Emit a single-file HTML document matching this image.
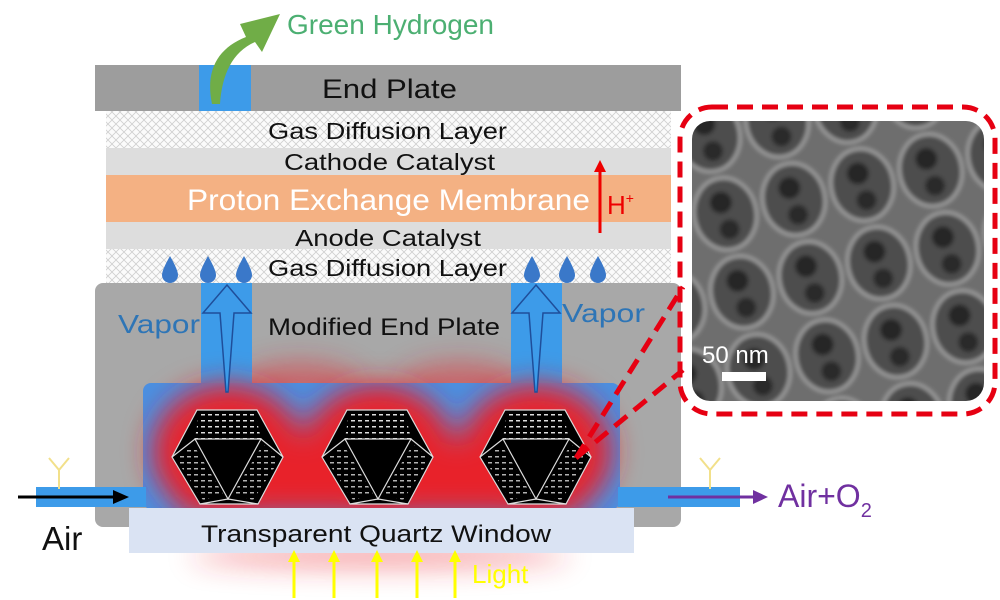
<!DOCTYPE html>
<html><head><meta charset="utf-8"><style>
html,body{margin:0;padding:0;background:#fff;width:1000px;height:600px;overflow:hidden}
svg{display:block}
text{font-family:"Liberation Sans",sans-serif}
</style></head><body>
<svg width="1000" height="600" viewBox="0 0 1000 600" xmlns="http://www.w3.org/2000/svg">
<defs>
<pattern id="hatch" width="8" height="8" patternUnits="userSpaceOnUse">
<rect width="8" height="8" fill="#fbfbfb"/>
<path d="M0 0L8 8M8 0L0 8" stroke="#cfcfcf" stroke-width="0.8"/>
</pattern>
<filter id="blur" x="-30%" y="-50%" width="160%" height="200%"><feGaussianBlur stdDeviation="14"/></filter>
<filter id="blur2"><feGaussianBlur stdDeviation="2"/></filter>
<clipPath id="semclip"><rect x="692" y="121" width="292" height="280" rx="18"/></clipPath>
<pattern id="dots" width="7" height="6" patternUnits="userSpaceOnUse"><rect x="1" y="2" width="4" height="1.5" fill="#ddd"/></pattern>
<pattern id="cells" width="70" height="80" patternUnits="userSpaceOnUse" patternTransform="rotate(-12)">
<rect width="70" height="80" fill="#6e6e6e"/>
<ellipse cx="35" cy="40" rx="31" ry="36" fill="#4e4e4e" stroke="#b0b0b0" stroke-width="2.5"/>
<circle cx="33" cy="28" r="11" fill="#262626"/>
<circle cx="36" cy="56" r="10" fill="#2a2a2a"/>
</pattern>
<g id="poly">
<polygon points="-31,-44 29,-44 55,3 30,50 -28,50 -56,3" fill="#000" stroke="#ddd" stroke-width="1.2"/>
<polygon points="-29,-42 27,-42 33,-15 -33,-15" fill="url(#dots)"/>
<polygon points="-33,-15 33,-15 0,45" fill="#000" stroke="#ddd" stroke-width="1.2"/>
<path d="M-33,-15 L-56,3 M33,-15 L55,3 M0,45 L-28,50 M0,45 L30,50" stroke="#ddd" stroke-width="1.2"/>
<polygon points="-52,5 -35,-10 -5,40 -25,46" fill="url(#dots)" opacity="0.8"/>
<polygon points="52,5 35,-10 5,40 25,46" fill="url(#dots)" opacity="0.8"/>
</g>
</defs>

<!-- end plate -->
<rect x="95" y="65" width="586" height="46" fill="#9d9d9d"/>
<rect x="199" y="65" width="52" height="46" fill="#3d9be9"/>
<text x="322" y="98" font-size="27" textLength="135" lengthAdjust="spacingAndGlyphs" fill="#111">End Plate</text>
<path d="M212 104 C205 70 218 48 246 37 L240 24 L280 14 L262 52 L255 42 C232 52 222 75 220 104 Z" fill="#70ad47"/>
<text x="287" y="34" font-size="28" fill="#4caf72">Green Hydrogen</text>

<!-- layers -->
<rect x="106" y="111" width="565" height="37" fill="url(#hatch)"/>
<text x="268" y="139" font-size="23" textLength="239" lengthAdjust="spacingAndGlyphs" fill="#111">Gas Diffusion Layer</text>
<rect x="106" y="148" width="565" height="27" fill="#dddddd"/>
<text x="284" y="170" font-size="23" textLength="211" lengthAdjust="spacingAndGlyphs" fill="#111">Cathode Catalyst</text>
<rect x="106" y="175" width="565" height="47" fill="#f4b183"/>
<text x="187" y="210" font-size="30" textLength="403" lengthAdjust="spacingAndGlyphs" fill="#fff">Proton Exchange Membrane</text>
<rect x="106" y="222" width="565" height="27" fill="#dddddd"/>
<text x="295" y="246" font-size="23" textLength="186" lengthAdjust="spacingAndGlyphs" fill="#111">Anode Catalyst</text>
<rect x="106" y="249" width="565" height="35" fill="url(#hatch)"/>
<text x="268" y="276" font-size="23" textLength="239" lengthAdjust="spacingAndGlyphs" fill="#111">Gas Diffusion Layer</text>
<line x1="600" y1="233" x2="600" y2="170" stroke="#e00" stroke-width="3"/>
<polygon points="594,172 606,172 600,160" fill="#e00"/>
<text x="607" y="214" font-size="26" fill="#e00">H<tspan font-size="14" dy="-11">+</tspan></text>
<g fill="#3a78c9">
<path d="M170 256 Q162 270 162 275 A8 8 0 0 0 178 275 Q178 270 170 256Z"/>
<path d="M208 256 Q200 270 200 275 A8 8 0 0 0 216 275 Q216 270 208 256Z"/>
<path d="M244 256 Q236 270 236 275 A8 8 0 0 0 252 275 Q252 270 244 256Z"/>
<path d="M532 256 Q524 270 524 275 A8 8 0 0 0 540 275 Q540 270 532 256Z"/>
<path d="M567 256 Q559 270 559 275 A8 8 0 0 0 575 275 Q575 270 567 256Z"/>
<path d="M598 256 Q590 270 590 275 A8 8 0 0 0 606 275 Q606 270 598 256Z"/>
</g>

<!-- modified end plate -->
<rect x="95" y="283" width="586" height="244" rx="8" fill="#a8a8a8"/>
<text x="268" y="335" font-size="24" textLength="232" lengthAdjust="spacingAndGlyphs" fill="#111">Modified End Plate</text>

<g filter="url(#blur)" fill="#e8202a" opacity="0.5">
<ellipse cx="300" cy="385" rx="60" ry="22"/>
<ellipse cx="460" cy="385" rx="60" ry="22"/>
<ellipse cx="380" cy="556" rx="190" ry="10"/>
</g>

<rect x="201" y="283" width="51" height="105" fill="#3d9be9"/>
<rect x="511" y="283" width="51" height="105" fill="#3d9be9"/>

<rect x="143" y="383" width="477" height="126" rx="8" fill="#4a90e2"/>
<g filter="url(#blur)" fill="#e8202a">
<ellipse cx="228" cy="452" rx="76" ry="68"/>
<ellipse cx="378" cy="452" rx="76" ry="68"/>
<ellipse cx="536" cy="452" rx="76" ry="68"/>
<rect x="180" y="440" width="400" height="75"/>
</g>
<polygon points="227,285 251,313 234,313 228,392 226,392 220,313 203,313" fill="#3d9be9" stroke="#1f4e9a" stroke-width="1.5"/>
<polygon points="536,285 560,313 543,313 537,392 535,392 529,313 512,313" fill="#3d9be9" stroke="#1f4e9a" stroke-width="1.5"/>
<text x="118" y="333" font-size="26" textLength="82" lengthAdjust="spacingAndGlyphs" fill="#2e75b6">Vapor</text>
<text x="562" y="322" font-size="26" textLength="83" lengthAdjust="spacingAndGlyphs" fill="#2e75b6">Vapor</text>

<use href="#poly" x="228" y="454"/>
<use href="#poly" x="378" y="454"/>
<use href="#poly" x="536" y="454"/>

<rect x="36" y="487" width="110" height="20" fill="#3d9be9"/>
<rect x="618" y="487" width="122" height="20" fill="#3d9be9"/>
<line x1="18" y1="497" x2="115" y2="497" stroke="#000" stroke-width="3"/>
<polygon points="113,490 129,497 113,504" fill="#000"/>
<line x1="668" y1="497" x2="755" y2="497" stroke="#7030a0" stroke-width="3"/>
<polygon points="753,490 768,497 753,504" fill="#7030a0"/>
<path d="M59 489 L59 470 L49 458 M59 470 L69 458" stroke="#f2e08a" stroke-width="2" fill="none"/>
<path d="M710 489 L710 470 L700 458 M710 470 L720 458" stroke="#f2e08a" stroke-width="2" fill="none"/>
<text x="42" y="550" font-size="33" fill="#111">Air</text>
<text x="778" y="507" font-size="32" fill="#7030a0">Air+O<tspan font-size="20" dy="10">2</tspan></text>

<rect x="129" y="508" width="505" height="45" fill="#dae3f3"/>
<text x="201" y="542" font-size="24" textLength="350" lengthAdjust="spacingAndGlyphs" fill="#111">Transparent Quartz Window</text>
<g stroke="#ffff00" stroke-width="3" fill="#ffff00">
<line x1="294" y1="598" x2="294" y2="560"/><polygon points="288,562 300,562 294,550" stroke="none"/>
<line x1="334" y1="598" x2="334" y2="560"/><polygon points="328,562 340,562 334,550" stroke="none"/>
<line x1="377" y1="598" x2="377" y2="560"/><polygon points="371,562 383,562 377,550" stroke="none"/>
<line x1="417" y1="598" x2="417" y2="560"/><polygon points="411,562 423,562 417,550" stroke="none"/>
<line x1="455" y1="598" x2="455" y2="560"/><polygon points="449,562 461,562 455,550" stroke="none"/>
</g>
<text x="472" y="583" font-size="26" fill="#ffff00">Light</text>

<g clip-path="url(#semclip)">
<rect x="680" y="110" width="320" height="300" fill="url(#cells)" filter="url(#blur2)"/>
</g>
<rect x="680" y="107" width="315" height="307" rx="32" fill="none" stroke="#e60012" stroke-width="5" stroke-dasharray="16 9"/>
<text x="702" y="363" font-size="24" fill="#fff">50 nm</text>
<rect x="722" y="372" width="44" height="9" fill="#fff"/>
<line x1="576" y1="458" x2="683" y2="287" stroke="#e60012" stroke-width="5" stroke-dasharray="16 9"/>
<line x1="576" y1="458" x2="683" y2="370" stroke="#e60012" stroke-width="5" stroke-dasharray="16 9"/>
</svg>
</body></html>
